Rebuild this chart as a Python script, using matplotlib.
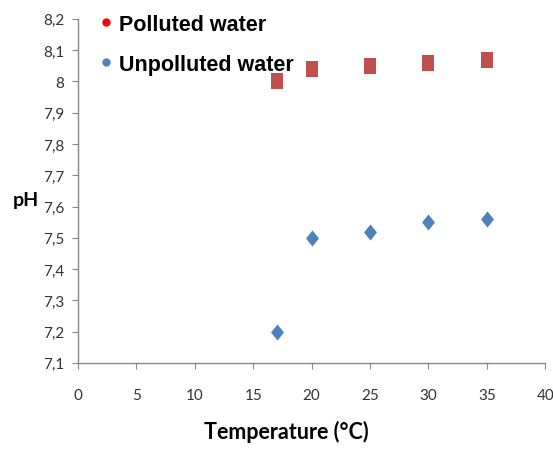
import matplotlib
matplotlib.use("Agg")
import matplotlib.pyplot as plt
from matplotlib.lines import Line2D
from matplotlib.ticker import FuncFormatter, MultipleLocator

# Data
temperature = [17, 20, 25, 30, 35]
ph_polluted = [8.00, 8.04, 8.05, 8.06, 8.07]
ph_unpolluted = [7.20, 7.50, 7.52, 7.55, 7.56]

calib = ["Lato", "DejaVu Sans"]

# slightly tall markers, like the stretched original
tall_square = [(-0.37, -0.5), (0.37, -0.5), (0.37, 0.5), (-0.37, 0.5)]
tall_diamond = [(0, 0.5), (0.4, 0), (0, -0.5), (-0.4, 0)]

fig = plt.figure(figsize=(5.53, 4.52), dpi=100)
ax = fig.add_axes([0.141, 0.195, 0.845, 0.761])

ax.scatter(temperature, ph_polluted, marker=tall_square, s=133, color="#C0504D",
           linewidths=0, zorder=3)
ax.scatter(temperature, ph_unpolluted, marker=tall_diamond, s=135, color="#4F81BD",
           linewidths=0, zorder=3)

ax.set_xlim(0, 40)
ax.set_ylim(7.1, 8.2)
ax.xaxis.set_major_locator(MultipleLocator(5))
ax.yaxis.set_major_locator(MultipleLocator(0.1))
ax.yaxis.set_major_formatter(FuncFormatter(lambda v, p: f"{round(v, 1):g}".replace(".", ",")))

for side in ("top", "right"):
    ax.spines[side].set_visible(False)
for side in ("left", "bottom"):
    ax.spines[side].set_color("#888888")
    ax.spines[side].set_linewidth(1.0)
ax.tick_params(axis="both", direction="out", length=4, color="#888888",
               labelcolor="#333333", labelsize=11, pad=6)
for lbl in ax.get_xticklabels() + ax.get_yticklabels():
    lbl.set_family(calib)
ax.tick_params(axis="x", pad=14)

ax.set_xlabel("Temperature (°C)", family=calib, fontweight="bold", fontsize=15.5)
ax.xaxis.set_label_coords(0.445, -0.165)
ax.set_ylabel("pH", family=calib, fontweight="bold", fontsize=14, rotation=0)
ax.yaxis.set_label_coords(-0.112, 0.45)

handles = [
    Line2D([], [], marker="o", linestyle="", color="#FF0000", markersize=5),
    Line2D([], [], marker="o", linestyle="", color="#4F81BD", markersize=5),
]
leg = ax.legend(handles, ["Polluted water", "Unpolluted water"], loc="upper left",
                bbox_to_anchor=(-0.01, 1.071), frameon=False, handletextpad=0.0,
                handlelength=1.2, labelspacing=0.87,
                prop={"family": "Liberation Sans", "weight": "bold", "size": 15.5})

fig.savefig("out.png", dpi=100)
